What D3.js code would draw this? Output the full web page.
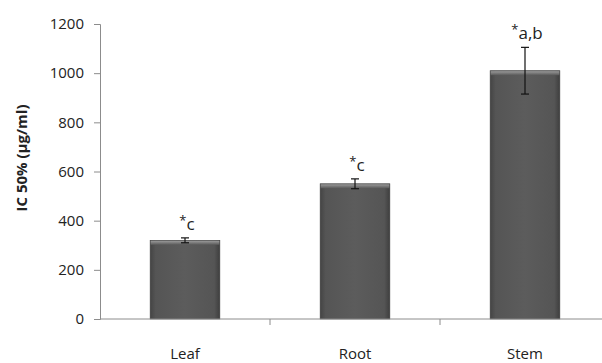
<!DOCTYPE html>
<html>
<head>
<meta charset="utf-8">
<script src="https://cdn.jsdelivr.net/npm/d3@7"></script>
<style>
  body { margin: 0; background: #fff; }
  svg text { font-family: "Open Sans", "DejaVu Sans", sans-serif; fill: #222; }
</style>
</head>
<body>
<svg id="chart" width="602" height="363"></svg>
<script>
// data
const categories = ['Leaf', 'Root', 'Stem']
const values = [320, 550, 1010]
const errors = [10, 20, 95]
const marks = ['c', 'c', 'a,b']
const yTicks = [0, 200, 400, 600, 800, 1000, 1200]

const svg = d3.select('#chart')

const x = d3.scaleBand()
  .domain(categories)
  .range([100, 610])
  .paddingInner(0.59)
  .paddingOuter(0.295)

const y = d3.scaleLinear()
  .domain([0, 1200])
  .range([319, 24])

// bar gradient
const defs = svg.append('defs')
const grad = defs.append('linearGradient')
  .attr('id', 'barGrad')
  .attr('x1', '0%').attr('x2', '100%')
  .attr('y1', '0%').attr('y2', '0%')
grad.selectAll('stop')
  .data([['0%', '#444'], ['8%', '#555'], ['50%', '#5c5c5c'], ['92%', '#555'], ['100%', '#3e3e3e']])
  .enter().append('stop')
  .attr('offset', d => d[0])
  .style('stop-color', d => d[1])

const bevel = defs.append('linearGradient')
  .attr('id', 'bevelGrad')
  .attr('x1', '0%').attr('x2', '0%')
  .attr('y1', '0%').attr('y2', '100%')
bevel.selectAll('stop')
  .data([['0%', '#9a9a9a'], ['100%', '#5a5a5a']])
  .enter().append('stop')
  .attr('offset', d => d[0])
  .style('stop-color', d => d[1])

// y axis
svg.append('g')
  .attr('transform', 'translate(100,0)')
  .call(d3.axisLeft(y).tickValues(yTicks).tickFormat(d3.format('d')).tickSize(6).tickPadding(10))
  .call(g => g.selectAll('path, line').attr('stroke', '#8c8c8c'))
  .call(g => g.selectAll('text').style('font-size', '15px').attr('fill', '#222'))

// bars
const bars = svg.append('g')
  .selectAll('g')
  .data(categories)
  .enter().append('g')

bars.append('rect')
  .attr('x', d => x(d))
  .attr('width', x.bandwidth())
  .attr('y', (d, i) => y(values[i]))
  .attr('height', (d, i) => y(0) - y(values[i]))
  .attr('fill', 'url(#barGrad)')
  .attr('stroke', '#3a3a3a')
  .attr('stroke-width', 0.6)

bars.append('rect')
  .attr('x', d => x(d) + 0.5)
  .attr('width', x.bandwidth() - 1)
  .attr('y', (d, i) => y(values[i]) + 0.5)
  .attr('height', 4)
  .attr('fill', 'url(#bevelGrad)')

// x axis
const xAxisY = y(0)
svg.append('line')
  .attr('x1', 100).attr('x2', 602)
  .attr('y1', xAxisY).attr('y2', xAxisY)
  .attr('stroke', '#8c8c8c')

svg.append('g')
  .selectAll('line')
  .data(categories.slice(1))
  .enter().append('line')
  .attr('x1', d => x(d) - x.step() * x.paddingInner() / 2)
  .attr('x2', d => x(d) - x.step() * x.paddingInner() / 2)
  .attr('y1', xAxisY).attr('y2', xAxisY + 6)
  .attr('stroke', '#8c8c8c')

svg.append('g')
  .selectAll('text')
  .data(categories)
  .enter().append('text')
  .attr('x', d => x(d) + x.bandwidth() / 2)
  .attr('y', 359)
  .attr('text-anchor', 'middle')
  .style('font-size', '15px')
  .text(d => d)

// error bars
const err = svg.append('g')
  .attr('stroke', '#111')
  .attr('stroke-width', 1.2)
categories.forEach((c, i) => {
  const cx = x(c) + x.bandwidth() / 2
  err.append('line')
    .attr('x1', cx).attr('x2', cx)
    .attr('y1', y(values[i] + errors[i])).attr('y2', y(values[i] - errors[i]))
  err.append('line')
    .attr('x1', cx - 4).attr('x2', cx + 4)
    .attr('y1', y(values[i] + errors[i])).attr('y2', y(values[i] + errors[i]))
  err.append('line')
    .attr('x1', cx - 4).attr('x2', cx + 4)
    .attr('y1', y(values[i] - errors[i])).attr('y2', y(values[i] - errors[i]))
})

// significance labels
const lab = svg.append('g')
  .selectAll('text')
  .data(categories)
  .enter().append('text')
  .attr('x', d => x(d) + x.bandwidth() / 2 + 2)
  .attr('y', (d, i) => y(values[i] + errors[i]) - 8)
  .attr('text-anchor', 'middle')
  .style('font-size', '17px')
lab.append('tspan')
  .attr('dy', -5)
  .style('font-size', '13px')
  .text('*')
lab.append('tspan')
  .attr('dy', 5)
  .text((d, i) => marks[i])

// y axis title
svg.append('text')
  .attr('transform', 'translate(27,158) rotate(-90)')
  .attr('text-anchor', 'middle')
  .style('font-size', '15px')
  .style('font-weight', 'bold')
  .text('IC 50% (µg/ml)')
</script>
</body>
</html>
